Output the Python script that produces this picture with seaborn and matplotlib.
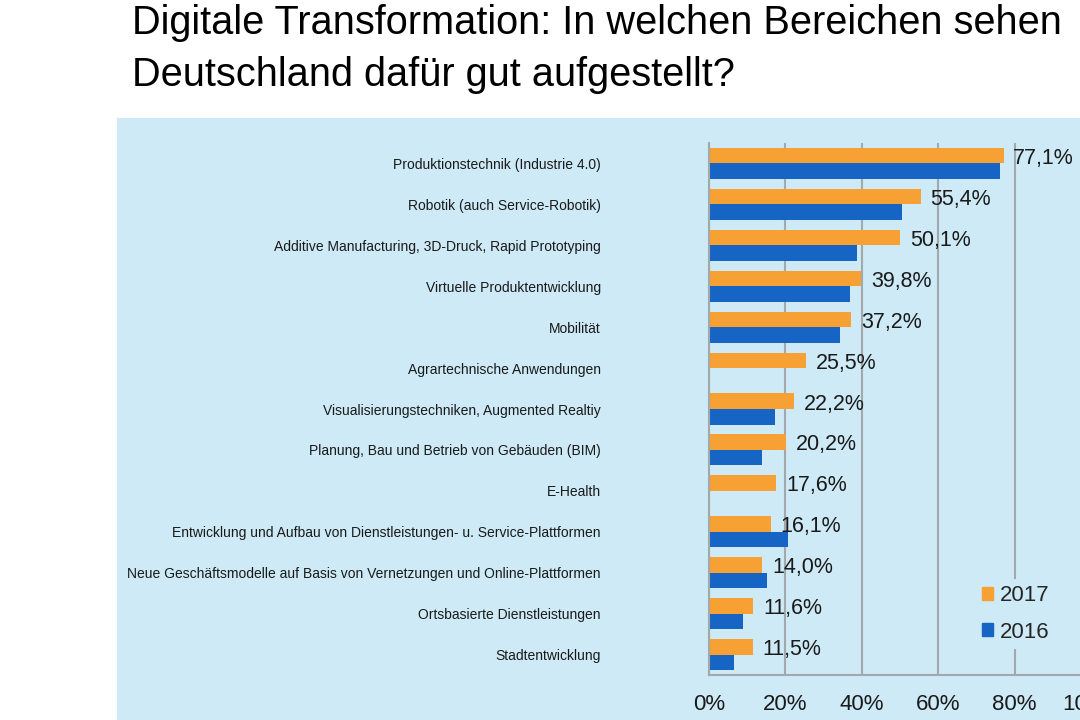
import numpy as np
import pandas as pd
import matplotlib.pyplot as plt
import matplotlib.patches as mpatches
import seaborn as sns

categories = [
    'Produktionstechnik (Industrie 4.0)',
    'Robotik (auch Service-Robotik)',
    'Additive Manufacturing, 3D-Druck, Rapid Prototyping',
    'Virtuelle Produktentwicklung',
    'Mobilität',
    'Agrartechnische Anwendungen',
    'Visualisierungstechniken, Augmented Realtiy',
    'Planung, Bau und Betrieb von Gebäuden (BIM)',
    'E-Health',
    'Entwicklung und Aufbau von Dienstleistungen- u. Service-Plattformen',
    'Neue Geschäftsmodelle auf Basis von Vernetzungen und Online-Plattformen',
    'Ortsbasierte Dienstleistungen',
    'Stadtentwicklung',
]
values_2017 = [77.1, 55.4, 50.1, 39.8, 37.2, 25.5, 22.2, 20.2, 17.6, 16.1, 14.0, 11.6, 11.5]
values_2016 = [76.1, 50.4, 38.7, 37.0, 34.2, np.nan, 17.3, 13.8, np.nan, 20.7, 15.1, 8.8, 6.6]
years = ['2017', '2016']
xticks = [0, 20, 40, 60, 80, 100]
title_lines = ['Digitale Transformation: In welchen Bereichen sehen',
               'Deutschland dafür gut aufgestellt?']

ORANGE = '#F7A034'
BLUE = '#1664C4'
PANEL = '#CDEAF6'
GRID = '#A2A9AD'

df = pd.DataFrame({
    'Bereich': categories * 2,
    'Jahr': ['2017'] * len(categories) + ['2016'] * len(categories),
    'Wert': values_2017 + values_2016,
}).dropna()

sns.set_theme(style='white')
plt.rcParams['font.family'] = ['Liberation Sans', 'DejaVu Sans']

fig = plt.figure(figsize=(10.8, 7.2), dpi=100)
fig.patch.set_facecolor('white')
# light blue panel behind the chart
fig.patches.append(mpatches.Rectangle((117 / 1080, 0), 1.0, 1 - 118 / 720,
                                      transform=fig.transFigure, facecolor=PANEL,
                                      edgecolor='none', zorder=-1))

ax = fig.add_axes([709 / 1080, 45 / 720, 382 / 1080, 532 / 720])
ax.set_facecolor(PANEL)

sns.barplot(data=df, x='Wert', y='Bereich', hue='Jahr', order=categories,
            hue_order=years, palette=[ORANGE, BLUE], width=0.76,
            errorbar=None, legend=False, ax=ax, saturation=1, linewidth=0)

ax.set_xlim(0, 100)
ax.set_xticks(xticks, [f'{t}%' for t in xticks])
ax.set_xlabel('')
ax.set_ylabel('')
ax.set_axisbelow(True)
ax.grid(axis='x', color=GRID, linewidth=1.5)
ax.grid(axis='y', visible=False)
for side in ['top', 'right']:
    ax.spines[side].set_visible(False)
for side in ['left', 'bottom']:
    ax.spines[side].set_color(GRID)
    ax.spines[side].set_linewidth(1.5)
ax.tick_params(axis='x', length=0, pad=14, labelsize=16, labelcolor='#1a1a1a')
ax.tick_params(axis='y', length=0, pad=78, labelsize=10, labelcolor='#1a1a1a')

# value labels for 2017 bars
for patch, v in zip(ax.containers[0].patches, values_2017):
    ax.annotate(f'{v:.1f}'.replace('.', ',') + '%',
                xy=(patch.get_width(), patch.get_y() + patch.get_height() / 2),
                xytext=(7, -2), textcoords='offset points',
                ha='left', va='center', fontsize=15.5, color='#1a1a1a')

handles = [mpatches.Patch(color=ORANGE, label='2017'),
           mpatches.Patch(color=BLUE, label='2016')]
ax.legend(handles=handles, loc='center left', bbox_to_anchor=(0.903, 1 - 614 / 720),
          bbox_transform=fig.transFigure, frameon=True, facecolor=PANEL,
          edgecolor='none', framealpha=1, fontsize=16, handlelength=0.5,
          handleheight=0.5, handletextpad=0.3, labelspacing=0.68,
          borderpad=0.3, borderaxespad=0)

fig.text(132 / 1080, 1 - 34 / 720, title_lines[0], fontsize=28.6, va='baseline', color='black')
fig.text(132 / 1080, 1 - 86 / 720, title_lines[1], fontsize=28.6, va='baseline', color='black')

fig.savefig('out.png', dpi=100)
